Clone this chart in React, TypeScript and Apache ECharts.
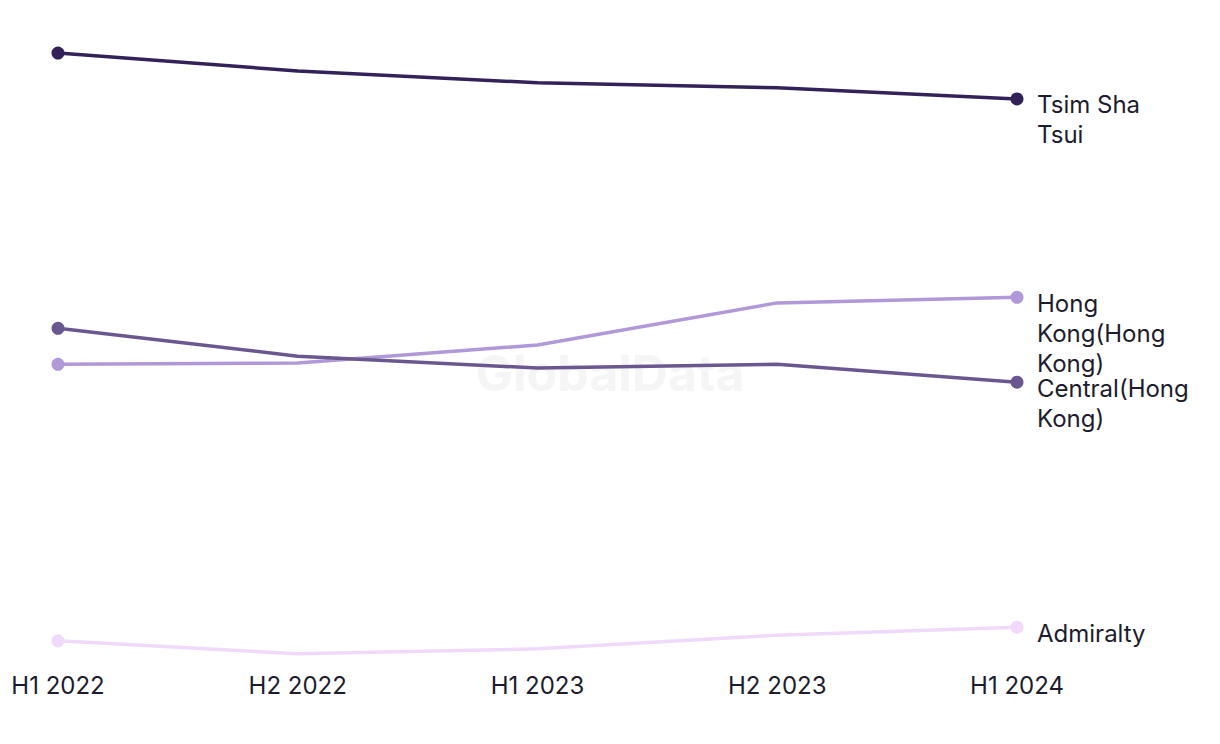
import React, { useEffect, useRef } from "react";
import * as echarts from "echarts";

const categories = ["H1 2022", "H2 2022", "H1 2023", "H2 2023", "H1 2024"];
const seriesNames = ["Tsim Sha Tsui", "Hong Kong(Hong Kong)", "Central(Hong Kong)", "Admiralty"];
const endLabels = ["Tsim Sha\nTsui", "Hong\nKong(Hong\nKong)", "Central(Hong\nKong)", "Admiralty"];
const tsimShaTsui = [97.9, 95.0, 93.1, 92.3, 90.5];
const hongKong = [47.7, 47.9, 50.8, 57.6, 58.5];
const central = [53.5, 49.0, 47.1, 47.7, 44.8];
const admiralty = [3.1, 1.0, 1.8, 4.0, 5.3];
const colors = ["#33215a", "#6b5790", "#b198d8", "#f1d9fb"];
const seriesColors = [colors[0], colors[2], colors[1], colors[3]];
const seriesData = [tsimShaTsui, hongKong, central, admiralty];

export default function App() {
  const ref = useRef<HTMLDivElement>(null);
  useEffect(() => {
    if (!ref.current) return;
    const chart = echarts.init(ref.current, undefined, { renderer: "svg" });
    const font = "Inter, 'Liberation Sans', sans-serif";
    const last = categories.length - 1;
    chart.setOption({
      animation: false,
      textStyle: { fontFamily: font },
      graphic: [
        {
          type: "text",
          left: "center",
          top: 348,
          z: 0,
          style: {
            text: "GlobalData",
            fontSize: 50,
            fontWeight: "bold",
            fill: "#f5f5f5",
            fontFamily: font,
          },
        },
      ],
      grid: { left: 58, right: 203, top: 40, bottom: 84, containLabel: false },
      xAxis: {
        type: "category",
        data: categories,
        boundaryGap: false,
        axisLine: { show: false },
        axisTick: { show: false },
        splitLine: { show: false },
        axisLabel: { color: "#1c1c2e", fontSize: 24, margin: 13, fontFamily: font },
      },
      yAxis: {
        type: "value",
        min: 0,
        max: 100,
        show: false,
        splitLine: { show: false },
      },
      series: seriesNames.map((name, i) => ({
        name,
        type: "line",
        data: seriesData[i].map((v, j) => ({
          value: v,
          symbol: j === 0 || j === last ? "circle" : "none",
        })),
        color: seriesColors[i],
        lineStyle: { width: 3.5, color: seriesColors[i] },
        itemStyle: { color: seriesColors[i] },
        symbol: "circle",
        symbolSize: 13,
        showSymbol: true,
        showAllSymbol: true,
        z: 3,
        endLabel: {
          show: true,
          formatter: () => endLabels[i],
          color: "#1c1c2e",
          fontSize: 24,
          lineHeight: 30,
          fontFamily: font,
          align: "left",
          verticalAlign: "top",
          offset: [12, -9],
        },
      })),
    });
    return () => chart.dispose();
  }, []);
  return (
    <div
      ref={ref}
      style={{ position: "fixed", left: 0, top: 0, width: 1220, height: 744, background: "#fff" }}
    />
  );
}
